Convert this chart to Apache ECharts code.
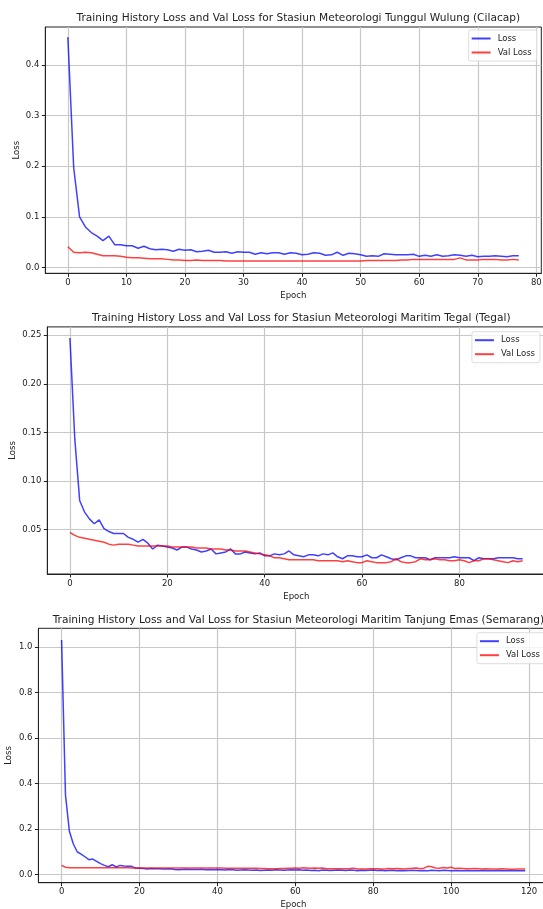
<!DOCTYPE html>
<html>
<head>
<meta charset="utf-8">
<script src="https://cdn.jsdelivr.net/npm/echarts@6/dist/echarts.min.js"></script>
<style>
html,body{margin:0;padding:0;background:#fff;}
#chart{width:543px;height:909px;}
</style>
</head>
<body>
<div id="chart"></div>
<script>
// ---------- Data ----------
const titles = [
  'Training History Loss and Val Loss for Stasiun Meteorologi Tunggul Wulung (Cilacap)',
  'Training History Loss and Val Loss for Stasiun Meteorologi Maritim Tegal (Tegal)',
  'Training History Loss and Val Loss for Stasiun Meteorologi Maritim Tanjung Emas (Semarang)'
];

const loss1 = [0.455,0.197,0.100,0.080,0.069,0.062,0.053,0.062,0.045,0.045,
0.043,0.043,0.038,0.042,0.037,0.035,0.036,0.035,0.032,0.036,
0.034,0.035,0.031,0.032,0.034,0.030,0.030,0.031,0.028,0.031,
0.030,0.030,0.026,0.029,0.027,0.029,0.029,0.026,0.029,0.028,
0.025,0.026,0.029,0.028,0.024,0.025,0.030,0.024,0.028,0.027,
0.025,0.022,0.023,0.022,0.027,0.026,0.025,0.025,0.025,0.026,
0.022,0.024,0.022,0.025,0.022,0.023,0.025,0.024,0.022,0.024,
0.021,0.022,0.022,0.023,0.022,0.021,0.023,0.023];
const val1 = [0.041,0.030,0.029,0.030,0.029,0.026,0.023,0.023,0.023,0.022,
0.020,0.019,0.019,0.018,0.017,0.017,0.017,0.016,0.015,0.015,
0.014,0.014,0.015,0.014,0.014,0.014,0.014,0.013,0.013,0.013,
0.013,0.013,0.013,0.013,0.013,0.013,0.013,0.013,0.013,0.013,
0.013,0.013,0.013,0.013,0.013,0.013,0.013,0.013,0.013,0.013,
0.013,0.014,0.014,0.014,0.014,0.014,0.014,0.015,0.015,0.016,
0.016,0.016,0.016,0.016,0.016,0.016,0.016,0.019,0.015,0.015,
0.015,0.016,0.016,0.016,0.015,0.015,0.016,0.015];

const loss2 = [0.247,0.143,0.080,0.068,0.061,0.056,0.060,0.051,0.048,0.046,
0.046,0.046,0.042,0.040,0.037,0.040,0.036,0.030,0.034,0.033,
0.032,0.031,0.029,0.032,0.032,0.030,0.029,0.027,0.028,0.030,
0.025,0.026,0.027,0.030,0.025,0.025,0.027,0.026,0.025,0.026,
0.023,0.023,0.025,0.024,0.025,0.028,0.024,0.023,0.022,0.024,
0.024,0.023,0.025,0.024,0.026,0.022,0.020,0.023,0.023,0.022,
0.022,0.024,0.021,0.021,0.024,0.022,0.020,0.019,0.021,0.023,
0.023,0.021,0.021,0.021,0.019,0.021,0.021,0.021,0.021,0.022,
0.021,0.021,0.021,0.018,0.021,0.020,0.020,0.020,0.021,0.021,
0.021,0.021,0.020,0.020];
const val2 = [0.047,0.044,0.042,0.041,0.040,0.039,0.038,0.037,0.035,0.034,
0.035,0.035,0.035,0.034,0.033,0.033,0.033,0.033,0.033,0.033,
0.033,0.032,0.032,0.032,0.032,0.032,0.031,0.031,0.031,0.030,
0.030,0.030,0.029,0.029,0.028,0.028,0.028,0.027,0.026,0.025,
0.024,0.023,0.021,0.021,0.020,0.019,0.019,0.019,0.019,0.019,
0.019,0.018,0.018,0.018,0.018,0.018,0.017,0.018,0.017,0.016,
0.016,0.018,0.017,0.016,0.016,0.016,0.017,0.020,0.017,0.016,
0.016,0.017,0.020,0.019,0.019,0.020,0.019,0.019,0.018,0.018,
0.019,0.018,0.016,0.018,0.018,0.020,0.020,0.019,0.018,0.017,
0.016,0.018,0.017,0.018];

const loss3 = [1.031,0.350,0.190,0.135,0.100,0.090,0.078,0.065,0.068,0.058,
0.048,0.040,0.034,0.043,0.033,0.040,0.037,0.036,0.036,0.028,
0.027,0.026,0.024,0.026,0.025,0.025,0.024,0.024,0.025,0.022,
0.021,0.022,0.023,0.022,0.022,0.022,0.023,0.021,0.022,0.021,
0.022,0.021,0.020,0.022,0.021,0.019,0.020,0.021,0.020,0.019,
0.020,0.018,0.019,0.020,0.019,0.021,0.020,0.019,0.020,0.021,
0.020,0.021,0.019,0.020,0.018,0.019,0.017,0.020,0.019,0.018,
0.019,0.020,0.019,0.018,0.020,0.019,0.017,0.019,0.018,0.019,
0.020,0.018,0.019,0.017,0.018,0.019,0.017,0.018,0.016,0.018,
0.019,0.018,0.017,0.018,0.017,0.019,0.018,0.017,0.019,0.018,
0.017,0.018,0.016,0.017,0.018,0.016,0.017,0.016,0.018,0.017,
0.016,0.017,0.018,0.016,0.017,0.016,0.017,0.016,0.016,0.017];
const val3 = [0.040,0.032,0.030,0.030,0.030,0.030,0.030,0.030,0.030,0.030,
0.030,0.030,0.030,0.030,0.030,0.030,0.030,0.030,0.029,0.029,
0.029,0.029,0.029,0.029,0.029,0.029,0.029,0.029,0.029,0.029,
0.029,0.029,0.029,0.029,0.029,0.029,0.029,0.029,0.029,0.029,
0.029,0.029,0.028,0.028,0.028,0.028,0.028,0.028,0.028,0.027,
0.027,0.026,0.026,0.025,0.025,0.025,0.026,0.026,0.027,0.027,
0.029,0.028,0.030,0.029,0.028,0.029,0.027,0.029,0.025,0.025,
0.025,0.025,0.025,0.025,0.026,0.028,0.024,0.024,0.024,0.025,
0.025,0.025,0.024,0.024,0.026,0.025,0.026,0.025,0.024,0.026,
0.027,0.029,0.025,0.028,0.036,0.034,0.029,0.028,0.031,0.029,
0.032,0.026,0.027,0.026,0.025,0.025,0.026,0.025,0.024,0.025,
0.024,0.024,0.024,0.025,0.024,0.023,0.023,0.024,0.024,0.024];

const xTicks1 = [0,10,20,30,40,50,60,70,80];
const xTicks2 = [0,20,40,60,80];
const xTicks3 = [0,20,40,60,80,100,120];
const yTicks1 = [0.0,0.1,0.2,0.3,0.4];
const yTicks2 = [0.05,0.10,0.15,0.20,0.25];
const yTicks3 = [0.0,0.2,0.4,0.6,0.8,1.0];

// ---------- Layout / style ----------
const FONT = 'DejaVu Sans';
const panels = [
  {loss: loss1, val: val1, xt: xTicks1, yt: yTicks1, yd: 1,
   grid: {left: 45.3, top: 27, width: 496, height: 246.3},
   ylim: [-0.0115, 0.475], titleTop: 8, legend: {right: 6.3, top: 30}, yGap: 24},
  {loss: loss2, val: val2, xt: xTicks2, yt: yTicks2, yd: 2,
   grid: {left: 47.3, top: 326.9, width: 498, height: 247.1},
   ylim: [0.0043, 0.2585], titleTop: 308, legend: {right: 3, top: 331.7}, yGap: 30.5},
  {loss: loss3, val: val3, xt: xTicks3, yt: yTicks3, yd: 1,
   grid: {left: 38.4, top: 628.3, width: 510, height: 254.4},
   ylim: [-0.036, 1.082], titleTop: 610, legend: {right: -2, top: 632.7}, yGap: 25}
];

const option = {
  animation: false,
  backgroundColor: '#ffffff',
  textStyle: {fontFamily: FONT},
  title: [], legend: [], grid: [], xAxis: [], yAxis: [], series: []
};

panels.forEach((p, i) => {
  const n = p.loss.length;
  const xmin = -0.05 * (n - 1), xmax = (n - 1) * 1.05;
  option.title.push({
    text: titles[i],
    left: p.grid.left + p.grid.width / 2, top: p.titleTop,
    textAlign: 'center',
    textStyle: {fontFamily: FONT, fontSize: 10.6, fontWeight: 'normal', color: '#222'}
  });
  option.grid.push(Object.assign({show: true, borderColor: '#222', borderWidth: 1,
    backgroundColor: '#fff', containLabel: false, outerBoundsMode: 'none'}, p.grid));
  option.legend.push({
    data: ['Loss', 'Val Loss'], orient: 'vertical',
    right: p.legend.right, top: p.legend.top,
    itemWidth: 19, itemHeight: 2, itemGap: 5, icon: 'rect',
    padding: [4, 5, 4, 3], borderColor: '#ddd', borderWidth: 1, borderRadius: 2,
    backgroundColor: 'rgba(255,255,255,0.8)',
    textStyle: {fontFamily: FONT, fontSize: 8.5, color: '#222', padding: [0, 0, 0, 2]}
  });
  option.xAxis.push({
    type: 'value', gridIndex: i, min: xmin, max: xmax,
    name: 'Epoch', nameLocation: 'middle', nameGap: 18, nameMoveOverlap: false,
    nameTextStyle: {fontFamily: FONT, fontSize: 8.5, color: '#222'},
    axisLine: {show: true, onZero: false, lineStyle: {color: '#222', width: 1}},
    axisTick: {show: true, length: 3.5, customValues: p.xt, lineStyle: {color: '#222'}},
    axisLabel: {customValues: p.xt, fontFamily: FONT, fontSize: 8.5, color: '#222', margin: 5,
      formatter: v => String(Math.round(v))},
    splitLine: {show: true, lineStyle: {color: '#c8c8c8', width: 1.2}}
  });
  option.yAxis.push({
    type: 'value', gridIndex: i, min: p.ylim[0], max: p.ylim[1],
    name: 'Loss', nameLocation: 'middle', nameGap: p.yGap, nameRotate: 90, nameMoveOverlap: false,
    nameTextStyle: {fontFamily: FONT, fontSize: 8.5, color: '#222'},
    axisLine: {show: true, onZero: false, lineStyle: {color: '#222', width: 1}},
    axisTick: {show: true, length: 3.5, customValues: p.yt, lineStyle: {color: '#222'}},
    axisLabel: {customValues: p.yt, fontFamily: FONT, fontSize: 8.5, color: '#222', margin: 6,
      formatter: v => v.toFixed(p.yd)},
    splitLine: {show: true, lineStyle: {color: '#c8c8c8', width: 1.2}}
  });
  option.series.push({
    name: 'Loss', type: 'line', xAxisIndex: i, yAxisIndex: i,
    data: p.loss.map((v, k) => [k, v]), showSymbol: false, symbol: 'none',
    lineStyle: {color: 'rgba(0,0,255,0.75)', width: 1.5}, itemStyle: {color: 'rgba(0,0,255,0.75)'},
    z: 3
  });
  option.series.push({
    name: 'Val Loss', type: 'line', xAxisIndex: i, yAxisIndex: i,
    data: p.val.map((v, k) => [k, v]), showSymbol: false, symbol: 'none',
    lineStyle: {color: 'rgba(255,0,0,0.75)', width: 1.5}, itemStyle: {color: 'rgba(255,0,0,0.75)'},
    z: 4
  });
});

const chart = echarts.init(document.getElementById('chart'), null, {renderer: 'canvas'});
chart.setOption(option);
</script>
</body>
</html>
